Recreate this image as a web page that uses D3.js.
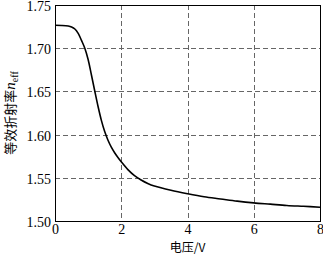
<!DOCTYPE html>
<html>
<head>
<meta charset="utf-8">
<script src="https://cdn.jsdelivr.net/npm/d3@7"></script>
<style>
  body { margin: 0; background: #fff; }
  .tick text { font-family: "Liberation Serif", "DejaVu Serif", serif; font-size: 14px; fill: #000; }
  .cjk { font-family: "Noto Sans CJK SC", sans-serif; font-size: 13px; fill: #000; }
</style>
</head>
<body>
<svg id="chart" width="323" height="255"></svg>
<script>
// voltage (V) and effective index
const voltage = [0, 0.2, 0.4, 0.5, 0.6, 0.7, 0.8, 0.9, 1.0, 1.1, 1.2, 1.3, 1.4, 1.5, 1.6, 1.7, 1.8, 1.9, 2.0,
                 2.2, 2.4, 2.6, 2.8, 3.0, 3.5, 4.0, 4.5, 5.0, 5.5, 6.0, 6.5, 7.0, 7.5, 8.0];
const nEff = [1.7265, 1.7263, 1.7256, 1.7245, 1.7222, 1.7172, 1.709, 1.700, 1.687, 1.669, 1.6505, 1.6325, 1.6165, 1.6035, 1.5935, 1.5855, 1.579, 1.5735, 1.5685,
              1.5595, 1.5525, 1.5475, 1.5435, 1.5405, 1.5355, 1.5315, 1.528, 1.5255, 1.523, 1.521, 1.5195, 1.518, 1.517, 1.516];
const xTicks = [0, 2, 4, 6, 8];
const yTicks = [1.50, 1.55, 1.60, 1.65, 1.70, 1.75];

const svg = d3.select("#chart");
const pLeft = 55, pRight = 320, pTop = 5, pBottom = 221;

const x = d3.scaleLinear().domain([0, 8]).range([pLeft, pRight]);
const y = d3.scaleLinear().domain([1.50, 1.75]).range([pBottom, pTop]);

// dashed grid
const grid = svg.append("g").attr("stroke", "#666").attr("stroke-width", 1).attr("stroke-dasharray", "5,3");
grid.selectAll("line.v").data(xTicks.slice(1, -1)).enter().append("line")
  .attr("x1", d => Math.round(x(d)) + 0.5).attr("x2", d => Math.round(x(d)) + 0.5)
  .attr("y1", pTop).attr("y2", pBottom);
grid.selectAll("line.h").data(yTicks.slice(1, -1)).enter().append("line")
  .attr("y1", d => Math.round(y(d)) + 0.5).attr("y2", d => Math.round(y(d)) + 0.5)
  .attr("x1", pLeft).attr("x2", pRight);

// axes (labels only)
const xAxis = svg.append("g").attr("transform", `translate(0,${pBottom})`)
  .call(d3.axisBottom(x).tickValues(xTicks).tickSize(0).tickPadding(3).tickFormat(d3.format("d")));
xAxis.select(".domain").remove();

const yAxis = svg.append("g").attr("transform", `translate(${pLeft},1)`)
  .call(d3.axisLeft(y).tickValues(yTicks).tickSize(0).tickPadding(4).tickFormat(d3.format(".2f")));
yAxis.select(".domain").remove();

// frame
svg.append("rect").attr("x", pLeft + 0.5).attr("y", pTop + 0.5)
  .attr("width", pRight - pLeft).attr("height", pBottom - pTop)
  .attr("fill", "none").attr("stroke", "#000").attr("stroke-width", 1);

// curve
const line = d3.line().x(d => x(d[0])).y(d => y(d[1])).curve(d3.curveCatmullRom);
svg.append("path").datum(voltage.map((v, i) => [v, nEff[i]]))
  .attr("d", line).attr("fill", "none").attr("stroke", "#000").attr("stroke-width", 1.6);

// axis titles
svg.append("text").attr("class", "cjk").attr("x", (pLeft + pRight) / 2).attr("y", 251.5)
  .attr("text-anchor", "middle").style("font-size", "12px").text("电压/V");

const yt = svg.append("text").attr("class", "cjk").attr("text-anchor", "middle")
  .attr("transform", `translate(15,${(pTop + pBottom) / 2}) rotate(-90)`);
yt.append("tspan").text("等效折射率");
yt.append("tspan").attr("font-family", "Liberation Serif").attr("font-style", "italic").attr("font-size", 15).text("n");
yt.append("tspan").attr("font-family", "Liberation Serif").attr("font-size", 10).attr("dy", 3).text("eff");
</script>
</body>
</html>
